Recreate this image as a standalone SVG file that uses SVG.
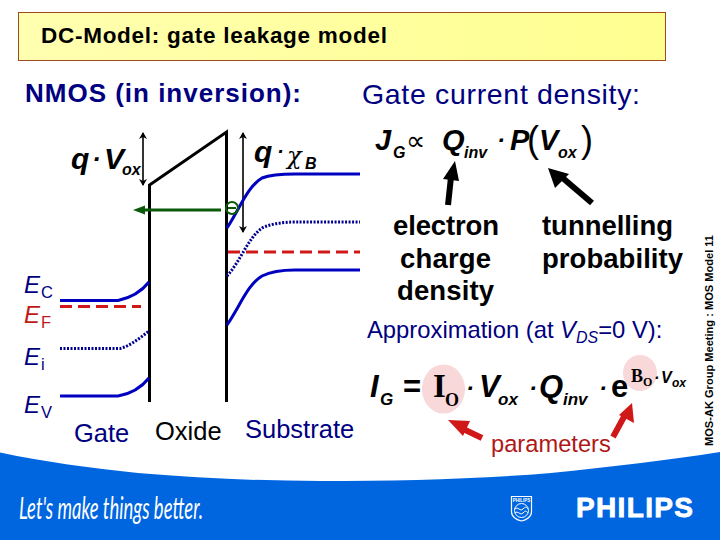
<svg xmlns="http://www.w3.org/2000/svg" width="720" height="540" viewBox="0 0 720 540">
<style>
text{font-family:"Liberation Sans",Arial,sans-serif}
.n{fill:#000080}
.eq{font-weight:bold;font-style:italic;fill:#000}
.lab{font-size:25.500px;fill:#000080}
.e{font-size:24px;font-style:italic}
.sub{font-size:16.500px;font-style:normal}
.band{fill:none;stroke:#0000c0;stroke-width:3}
.dot{fill:none;stroke:#000090;stroke-width:3;stroke-dasharray:2 1.5}
.red{fill:none;stroke:#d01818;stroke-width:3;stroke-dasharray:12 6}
.k{fill:none;stroke:#000;stroke-width:3}
.thin{fill:none;stroke:#000;stroke-width:1.6;marker-start:url(#hs);marker-end:url(#he)}
.ser{font-family:"Liberation Serif",serif;font-weight:bold}
.cap{font-size:27.500px;font-weight:bold;fill:#000}
</style>
<defs>
<marker id="he" markerWidth="7" markerHeight="8" refX="6" refY="4" orient="auto" markerUnits="userSpaceOnUse"><path d="M0 0L7 4L0 8L2 4Z"/></marker>
<marker id="hs" markerWidth="7" markerHeight="8" refX="1" refY="4" orient="auto" markerUnits="userSpaceOnUse"><path d="M7 0L0 4L7 8L5 4Z"/></marker>
<linearGradient id="y" x1="0" x2="1"><stop offset="0" stop-color="#ffffb0"/><stop offset="1" stop-color="#ffff90"/></linearGradient>
</defs>
<rect width="720" height="540" fill="#fff"/>
<path id="footer" d="M0 452.500C45 462 90 468 138 473C200 478 260 481 321 481C400 481 480 479 551 473C610 467 670 460 720 452V540H0Z" fill="#0066e0"/>
<g id="title">
<rect x="18.500" y="12.500" width="647" height="48" fill="url(#y)" stroke="#a04a20" stroke-width="1"/>
<text x="41" y="43" font-size="22.500px" font-weight="bold" textLength="346" lengthAdjust="spacing">DC-Model: gate leakage model</text>
</g>
<text id="nmos" x="25" y="102" font-size="26px" font-weight="bold" class="n" textLength="276">NMOS (in inversion):</text>
<text id="gcd" x="362" y="104" font-size="28.500px" class="n" textLength="278">Gate current density:</text>
<g id="connectors">
<path class="k" d="M149.500 402V185L226.500 132V402"/>
<path class="thin" d="M143 133V185"/>
<path class="thin" d="M243 133V232"/>
<path class="band" d="M227 228C240 208 248 186 262 178C272 174 285 174 295 174H360"/>
<path class="dot" d="M227 276C240 262 248 238 262 228C275 222 290 222 300 222H360"/>
<path class="red" d="M228 252H360"/>
<path class="band" d="M227 325C240 306 248 284 262 276C272 271 285 270 295 270H360"/>
<path class="band" d="M60 300.500H118C130 298 141 292 149 282"/>
<path class="red" d="M60 306.500H141"/>
<path class="dot" d="M60 348.500H120C130 346 140 338 149 331"/>
<path class="band" d="M60 396H118C130 394 141 388 149 378"/>
<path d="M133 210L145 205.500V208.500H221V211.500H145V214.500Z" fill="#0a5a0a"/>
<circle cx="232" cy="208" r="6" fill="none" stroke="#0a5a0a" stroke-width="2"/>
<path d="M228 208h8" stroke="#0a5a0a" stroke-width="2"/>
<path d="M448 205L451 177" stroke="#000" stroke-width="6" fill="none"/>
<path d="M443 179L455 161L459 181Z" fill="#000"/>
<path d="M592 203L558 174" stroke="#000" stroke-width="6" fill="none"/>
<path d="M548 168L569 174L555 188Z"/>
<path d="M482 438L459 427" stroke="#d01818" stroke-width="6" fill="none"/>
<path d="M448 420L470 421L463 436Z" fill="#d01818"/>
<path d="M613 437L625 415" stroke="#d01818" stroke-width="6" fill="none"/>
<path d="M632 403L634 423L619 415Z" fill="#d01818"/>
</g>
<g id="labels-left">
<text x="71" y="169" class="eq" font-size="30px">q</text><text x="92" y="168" class="eq" font-size="26px">·</text><text x="104" y="169" class="eq" font-size="30px">V</text><text x="122" y="175" class="eq" font-size="16px">ox</text>
<text x="254" y="162" class="eq" font-size="30px">q</text><text x="277" y="158" class="eq" font-size="20px">·</text><text x="287" y="164" font-size="24px" font-style="italic" style="font-family:'DejaVu Serif',serif">χ</text><text x="305" y="169" class="eq" font-size="16px">B</text>
<text x="24" y="293" class="e" fill="#000080">E</text><text x="41" y="298" class="e sub" fill="#000080">C</text>
<text x="24" y="323" class="e" fill="#c01818">E</text><text x="41" y="328" class="e sub" fill="#c01818">F</text>
<text x="24" y="365" class="e" fill="#000080">E</text><text x="41" y="370" class="e sub" fill="#000080">i</text>
<text x="24" y="413" class="e" fill="#000080">E</text><text x="41" y="418" class="e sub" fill="#000080">V</text>
<text x="74" y="442" class="lab">Gate</text>
<text x="155" y="440" class="lab" style="fill:#000">Oxide</text>
<text x="245" y="438" class="lab">Substrate</text>
</g>
<g id="eq1">
<text x="375" y="150" class="eq" font-size="29px">J</text><text x="393" y="158" class="eq" font-size="16px">G</text>
<text x="406" y="150" font-size="27px" style="font-family:'DejaVu Sans',sans-serif">∝</text>
<text x="442" y="150" class="eq" font-size="29px">Q</text><text x="464" y="158" class="eq" font-size="16px">inv</text>
<text x="497" y="148" class="eq" font-size="24px">·</text><text x="510" y="150" class="eq" font-size="29px">P</text>
<text x="527" y="152" font-size="36px">(</text><text x="539" y="150" class="eq" font-size="29px">V</text><text x="558" y="158" class="eq" font-size="16px">ox</text>
<text x="581" y="152" font-size="36px">)</text>
</g>
<g id="captions">
<text x="393" y="235" class="cap" textLength="106">electron</text><text x="400" y="268" class="cap" textLength="91">charge</text><text x="397" y="300" class="cap" textLength="97">density</text>
<text x="542" y="235" class="cap" textLength="131">tunnelling</text><text x="542" y="268" class="cap" textLength="141">probability</text>
</g>
<text id="approx" x="367" y="338" font-size="23.800px" class="n">Approximation (at <tspan font-style="italic">V</tspan><tspan font-size="16px" font-style="italic" dy="5">DS</tspan><tspan dy="-5">=0 V):</tspan></text>
<g id="eq2">
<ellipse cx="443.500" cy="389" rx="21.500" ry="24.500" fill="#f8d8d8"/>
<ellipse cx="640" cy="373" rx="17" ry="18" fill="#f8d8d8"/>
<text x="370" y="397" class="eq" font-size="31px">I</text><text x="380" y="405" class="eq" font-size="17px">G</text>
<text x="403" y="397" font-size="31px" font-weight="bold">=</text>
<text x="433" y="397" class="ser" font-size="33px">I</text><text x="445" y="406" class="ser" font-size="18px">O</text>
<text x="466" y="396" class="eq" font-size="24px">·</text><text x="479" y="397" class="eq" font-size="31px">V</text><text x="498" y="405" class="eq" font-size="17px">ox</text>
<text x="529" y="396" class="eq" font-size="24px">·</text><text x="539" y="397" class="eq" font-size="31px">Q</text><text x="563" y="405" class="eq" font-size="17px">inv</text>
<text x="599" y="396" class="eq" font-size="24px">·</text><text x="611" y="397" font-size="31px" font-weight="bold">e</text>
<text x="631" y="382" class="ser" font-size="18px">B</text><text x="643" y="386" class="ser" font-size="12px">O</text>
<text x="654" y="383" class="eq" font-size="16px">·</text><text x="661" y="383" class="eq" font-size="16px">V</text><text x="672" y="387" class="eq" font-size="12px">ox</text>
</g>
<text id="params" x="491" y="452" font-size="23.700px" fill="#b01818">parameters</text>
<text id="side" transform="translate(713 446) rotate(-90)" font-size="10.500px" font-weight="bold" textLength="211" lengthAdjust="spacingAndGlyphs">MOS-AK Group Meeting : MOS Model 11</text>
<g id="logo">
<text x="19" y="519" font-size="30px" font-style="italic" fill="#fff" textLength="184" lengthAdjust="spacingAndGlyphs" style="font-family:'Lato',sans-serif">Let's make things better.</text>
<path d="M511.500 496.500H531.500V512C531.500 517 526 520 521.500 521C517 520 511.500 517 511.500 512Z" fill="none" stroke="#fff" stroke-width="1.200"/>
<text x="521.500" y="502" font-size="4.500px" font-weight="bold" fill="#fff" text-anchor="middle">PHILIPS</text>
<circle cx="521.500" cy="510.500" r="7" fill="none" stroke="#fff" stroke-width="1"/>
<path d="M515 509C518 506 520 512 523 509S526 507 528 509M515 513C518 510 520 516 523 513S526 511 528 513" fill="none" stroke="#fff" stroke-width="1"/>
<text x="576" y="517" font-size="28px" font-weight="bold" fill="#fff" stroke="#fff" stroke-width=".8" textLength="117">PHILIPS</text>
</g>
</svg>
